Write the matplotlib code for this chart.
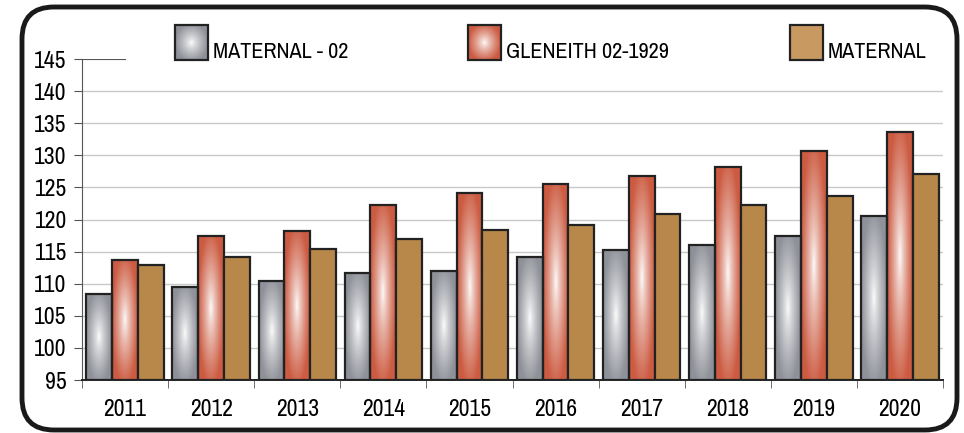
import numpy as np
import matplotlib
matplotlib.use("Agg")
from matplotlib import pyplot as plt
from matplotlib import font_manager
from matplotlib.patches import FancyBboxPatch, Rectangle

names = sorted({f.name for f in font_manager.fontManager.ttflist})
narrow = [n for n in names if 'Narrow' in n or 'Condensed' in n]
fam = narrow[0] if narrow else 'Liberation Sans'
plt.rcParams['font.family'] = [fam, 'DejaVu Sans']

years = ['2011', '2012', '2013', '2014', '2015', '2016', '2017', '2018', '2019', '2020']
maternal_02 = [108.4, 109.5, 110.4, 111.7, 112.0, 114.2, 115.2, 116.0, 117.5, 120.5]
gleneith = [113.7, 117.4, 118.2, 122.3, 124.1, 125.5, 126.8, 128.2, 130.7, 133.7]
maternal = [112.9, 114.2, 115.4, 117.0, 118.4, 119.1, 120.9, 122.2, 123.6, 127.1]
series_names = ['MATERNAL - 02', 'GLENEITH 02-1929', 'MATERNAL']
yticks = [95, 100, 105, 110, 115, 120, 125, 130, 135, 140, 145]

gray_edge = np.array([0.56, 0.57, 0.60])
red_edge = np.array([0.80, 0.36, 0.26])
brown = '#B8874A'
edge = '#222222'


def gradient(edge_rgb, n=80):
    # elliptical glow, white at the centre of the bar
    xx, yy = np.meshgrid(np.linspace(-1, 1, n), np.linspace(-1, 1, n))
    r = np.clip(np.sqrt(xx ** 2 + (yy * 0.9) ** 2), 0, 1) ** 0.8
    img = (1 - r[..., None]) * np.ones(3) + r[..., None] * edge_rgb
    return img


fig = plt.figure(figsize=(9.64, 4.33), dpi=100)
ax = fig.add_axes([82 / 964, 53 / 433, (943 - 82) / 964, (380 - 59) / 433])

x = np.arange(len(years))
w = 0.3
base = 95
for vals, off, fill in [(maternal_02, -w, gray_edge), (gleneith, 0, red_edge), (maternal, w, None)]:
    for xi, v in zip(x, vals):
        x0 = xi + off - w / 2
        if fill is None:
            ax.add_patch(Rectangle((x0, base), w, v - base, facecolor=brown,
                                   edgecolor=edge, lw=1.6, zorder=3))
        else:
            ax.imshow(gradient(fill), extent=[x0, x0 + w, base, v], aspect='auto',
                      zorder=2, interpolation='bilinear')
            ax.add_patch(Rectangle((x0, base), w, v - base, fill=False,
                                   edgecolor=edge, lw=1.6, zorder=3))

ax.set_xlim(-0.5, len(years) - 0.5)
ax.set_ylim(95, 145)
ax.set_yticks(yticks)
ax.set_yticklabels([str(t) for t in yticks], fontsize=17)
for t in yticks[1:-1]:
    ax.axhline(t, color='#c8c8c8', lw=1, zorder=1)
ax.axhline(145, xmin=0, xmax=0.05, color='#555555', lw=0.8, zorder=1)

ax.set_xticks(x)
ax.set_xticklabels(years, fontsize=17)
ax.set_xticks(np.arange(-0.5, len(years), 1), minor=True)
ax.tick_params(axis='x', which='major', length=0, pad=14)
ax.tick_params(axis='x', which='minor', length=6, color='#555555', direction='out')
ax.tick_params(axis='y', length=6, color='#555555', direction='out', pad=5)
for s in ['top', 'right']:
    ax.spines[s].set_visible(False)
ax.spines['left'].set_color('#555555')
ax.spines['bottom'].set_color('#222222')
ax.spines['bottom'].set_linewidth(1.4)

# overlay in pixel coordinates for frame and legend
ov = fig.add_axes([0, 0, 1, 1], zorder=5)
ov.set_xlim(0, 964)
ov.set_ylim(433, 0)
ov.axis('off')
ov.patch.set_alpha(0)
ov.add_patch(FancyBboxPatch((22, 7), 935, 423, boxstyle='round,pad=0,rounding_size=32',
                            fill=False, edgecolor='#1a1a1a', lw=3.5))

leg_x = [175, 468, 790]
fills = [gray_edge, red_edge, None]
for lx, name, fill in zip(leg_x, series_names, fills):
    if fill is None:
        ov.add_patch(Rectangle((lx, 25), 33, 35, facecolor='#C89A62', edgecolor=edge, lw=1.6))
    else:
        ov.imshow(gradient(fill), extent=[lx, lx + 33, 60, 25], aspect='auto',
                  interpolation='bilinear')
        ov.add_patch(Rectangle((lx, 25), 33, 35, fill=False, edgecolor=edge, lw=1.6))
    ov.text(lx + 38, 58, name, fontsize=16, va='baseline', ha='left')
ov.set_xlim(0, 964)
ov.set_ylim(433, 0)

fig.savefig('out.png', dpi=100)
